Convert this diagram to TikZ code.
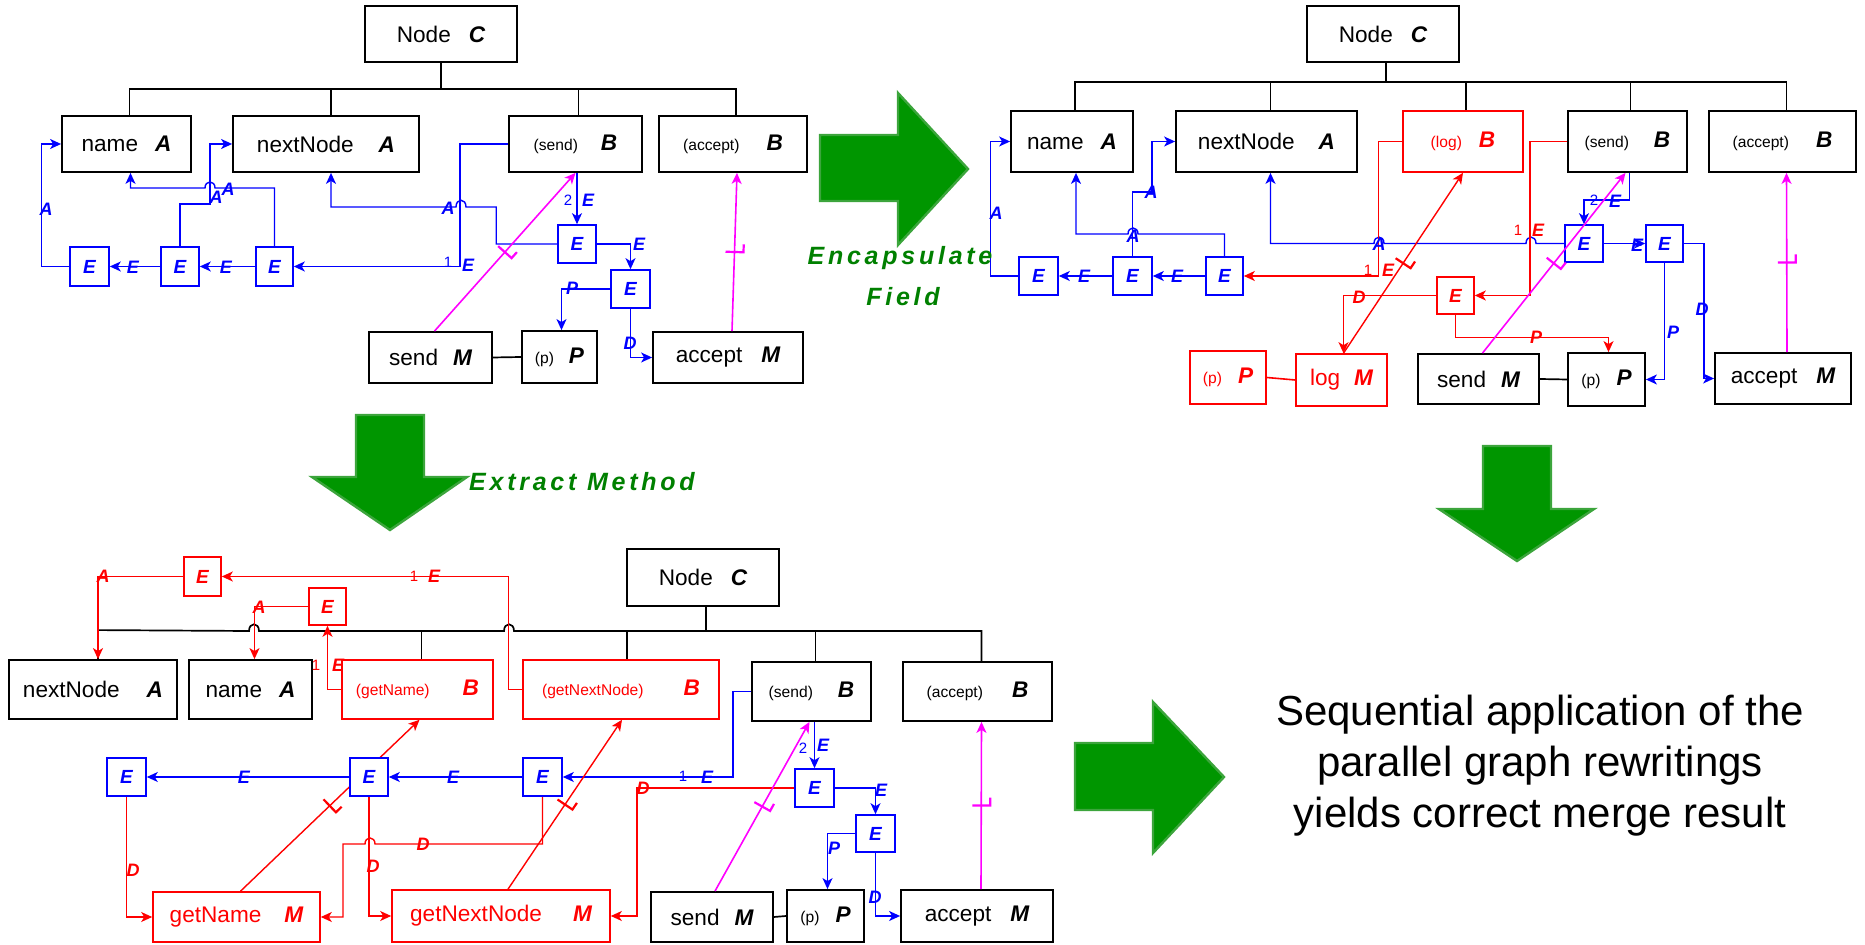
\documentclass[tikz,border=0pt]{standalone}
\usepackage{fontspec}
\setmainfont{Liberation Sans}
\newfontfamily\spacedfam[LetterSpace=15]{Liberation Sans}
\usetikzlibrary{arrows.meta,backgrounds,decorations.markings}
\definecolor{mag}{RGB}{255,0,255}
\definecolor{agreen}{RGB}{0,150,0}
\definecolor{aedge}{RGB}{60,165,60}
\definecolor{tgreen}{RGB}{0,128,0}
\newcommand\fntbig{\fontsize{11.3pt}{13pt}\selectfont}
\newcommand\fntsml{\fontsize{7.8pt}{9pt}\selectfont}
\newcommand\fntE{\fontsize{9.5pt}{11pt}\selectfont\bfseries\itshape}
\newcommand\fntlbl{\fontsize{9pt}{10pt}\selectfont\bfseries\itshape}
\newcommand\fntnum{\fontsize{7.5pt}{9pt}\selectfont}
\newcommand\fntgreen{\spacedfam\fontsize{12.5pt}{14pt}\selectfont\bfseries\itshape}
\newcommand\fntmsg{\fontsize{21pt}{25.5pt}\selectfont}
% word label + type letter, and small bracketed label + type letter
\newcommand\wlab[3][9pt]{{\fntbig #2}\hspace{#1}{\fntbig\bfseries\itshape #3}}
\newcommand\plab[3][12pt]{{\fntsml #2}\hspace{#1}{\fntbig\bfseries\itshape #3}}
% box from its corners: style, name, x1, y1, x2, y2, text
\newcommand\placebox[7]{\node[#1,minimum width={(#5-#3)*0.5pt},minimum height={(#6-#4)*0.5pt}] (#2) at ({(#3+#5)/2},{(#4+#6)/2}) {#7};}
\begin{document}
\begin{tikzpicture}[x=0.5pt,y=-0.5pt,
  box/.style={draw=black,line width=0.9pt,fill=white,inner sep=0pt,text=black},
  rbox/.style={box,draw=red,text=red,line width=0.8pt},
  ebox/.style={draw=blue,line width=0.8pt,fill=white,inner sep=0pt,text=blue,font=\fntE},
  rebox/.style={ebox,draw=red,text=red},
  arr/.style={-{Stealth[length=5.5pt,width=5pt,inset=1.5pt]}},
  be/.style={draw=blue,line width=0.7pt,arr},
  re/.style={draw=red,line width=0.7pt,arr},
  tick/.style={postaction={decorate,decoration={markings,mark=at position 0.5 with {\draw[line width=1.1pt,-] (0,4.5pt) -- (0,-4.5pt) -- (4pt,-4.5pt);}}}},
  me/.style={draw=mag,line width=0.8pt,arr,tick},
  tree/.style={draw=black,line width=0.85pt},
  bl/.style={font=\fntlbl,text=blue,inner sep=0pt},
  rl/.style={font=\fntlbl,text=red,inner sep=0pt},
  bn/.style={font=\fntnum,text=blue,inner sep=0pt},
  rn/.style={font=\fntnum,text=red,inner sep=0pt},
  bigarrow/.style={fill=agreen,draw=aedge,line width=1.2pt,line join=miter},
  gtxt/.style={font=\fntgreen,text=tgreen,inner sep=0pt}]
\useasboundingbox (0,0) rectangle (1865,945);

% ---------------- first graph (top left) ----------------
\placebox{box}{C1}{365}{6}{517}{62}{\wlab{Node}{C}}
\placebox{box}{nA1}{62}{116}{191}{172}{\wlab[8.5pt]{name}{A}}
\placebox{box}{nN1}{233}{116}{419}{172}{\wlab[12.5pt]{nextNode}{A}}
\placebox{box}{sB1}{509}{116}{642}{172}{\plab[11.5pt]{(send)}{B}}
\placebox{box}{aB1}{659}{116}{807}{172}{\plab[13.5pt]{(accept)}{B}}
\placebox{ebox}{e11}{70}{247}{109}{286}{E}
\placebox{ebox}{e12}{161}{247}{199}{286}{E}
\placebox{ebox}{e13}{256}{247}{293}{286}{E}
\placebox{ebox}{e14}{558}{225}{596}{263}{E}
\placebox{ebox}{e15}{611}{270}{650}{308}{E}
\placebox{box}{sM1}{369}{332}{492}{383}{\wlab[7.5pt]{send}{M}}
\placebox{box}{pP1}{522}{331}{597}{383}{\plab[7.5pt]{(p)}{P}}
\placebox{box}{aM1}{653}{332}{803}{383}{\wlab[9.5pt]{accept}{M}}

\begin{scope}[on background layer]
\coordinate (t1) at (441,89);
\draw[tree] (C1.south) -- ++(0,27);
\draw[tree] ([xshift=1.5pt]nA1.north) |- (t1) -| ([xshift=1.5pt]aB1.north);
\draw[tree] ([xshift=2.5pt]nN1.north) -- ++(0,-27);
\draw[tree] ([xshift=1.5pt]sB1.north) -- ++(0,-27);
\draw[be] (e11.west) -- ++(-28,0) |- (nA1.west);
\draw[be] (e12.west) -- (e11.east);
\draw[be] (e13.west) -- (e12.east);
\draw[be] (sB1.west) -- ++(-48,0) |- (e13.east);
\draw[be] (e14.west) -- ++(-61,0) |- (466,207) .. controls (466,198) and (456,198) .. (456,207) -| ([xshift=2.5pt]nN1.south);
\draw[be] (e13.north) |- (215,188) .. controls (215,180) and (205,180) .. (205,188) -| ([xshift=2pt]nA1.south);
\draw[be] (e12.north) |- (210,204) |- (nN1.west);
\draw[be] (e14.north |- sB1.south) -- (e14.north);
\draw[be] (e14.east) -| (e15.north);
\draw[be] (e15.west) -| ([xshift=1pt]pP1.north);
\draw[be] (e15.south) |- (aM1.west);
\draw[tree] (sM1.east) -- (pP1.west);
\end{scope}
\draw[me] ([xshift=2pt]sM1.north) -- (sB1.south);
\draw[me] ([xshift=2pt]aM1.north) -- ([xshift=2pt]aB1.south);

\node[bl] at (46,209) {A};
\node[bl] at (133,267) {E};
\node[bl] at (226,267) {E};
\node[bn] at (448,262) {1};
\node[bl] at (468,265) {E};
\node[bl] at (448,208) {A};
\node[bl] at (228,189) {A};
\node[bl] at (216,197) {A};
\node[bn] at (568,200) {2};
\node[bl] at (588,200) {E};
\node[bl] at (639,244) {E};
\node[bl] at (572,288) {P};
\node[bl] at (630,343) {D};

% ---------------- second graph (top right) ----------------
\placebox{box}{C2}{1307}{6}{1459}{62}{\wlab{Node}{C}}
\placebox{box}{nA2}{1011}{111}{1133}{172}{\wlab[8.5pt]{name}{A}}
\placebox{box}{nN2}{1176}{111}{1357}{172}{\wlab[12pt]{nextNode}{A}}
\placebox{rbox}{lB2}{1403}{111}{1523}{172}{\plab[8.5pt]{(log)}{B}}
\placebox{box}{sB2}{1568}{111}{1687}{172}{\plab[12.5pt]{(send)}{B}}
\placebox{box}{aB2}{1709}{111}{1856}{172}{\plab[13.5pt]{(accept)}{B}}
\placebox{ebox}{e21}{1019}{257}{1058}{295}{E}
\placebox{ebox}{e22}{1113}{257}{1152}{295}{E}
\placebox{ebox}{e23}{1206}{257}{1243}{295}{E}
\placebox{ebox}{e24}{1565}{225}{1603}{262}{E}
\placebox{ebox}{e25}{1646}{225}{1683}{262}{E}
\placebox{rebox}{eR2}{1437}{277}{1474}{314}{E}
\placebox{rbox}{pR2}{1190}{351}{1266}{404}{\plab[8pt]{(p)}{P}}
\placebox{rbox}{lM2}{1296}{354}{1387}{406}{\wlab[7pt]{log}{M}}
\placebox{box}{sM2}{1418}{354}{1539}{404}{\wlab[7.5pt]{send}{M}}
\placebox{box}{pP2}{1568}{353}{1645}{406}{\plab[8pt]{(p)}{P}}
\placebox{box}{aM2}{1715}{353}{1851}{404}{\wlab[9.5pt]{accept}{M}}

\begin{scope}[on background layer]
\coordinate (t2) at (1383,82);
\draw[tree] ([xshift=1.5pt]C2.south) -- ++(0,20);
\draw[tree] ([xshift=1.5pt]nA2.north) |- (t2) -| ([xshift=2pt]aB2.north);
\draw[tree] ([xshift=2pt]nN2.north) -- ++(0,-29);
\draw[tree] ([xshift=1.5pt]lB2.north) -- ++(0,-29);
\draw[tree] ([xshift=1.5pt]sB2.north) -- ++(0,-29);
\draw[be] (e21.west) -- ++(-28,0) |- (nA2.west);
\draw[be] (e22.west) -- (e21.east);
\draw[be] (e23.west) -- (e22.east);
\draw[be] (e23.north) |- (1138,234) .. controls (1138,226) and (1128,226) .. (1128,234) -| ([xshift=2pt]nA2.south);
\draw[be] (e22.north) |- (1152,192) |- (nN2.west);
\draw[be] (e24.west) -- (1536,243.5) .. controls (1536,235) and (1526,235) .. (1526,243.5) -- (1384,243.5) .. controls (1384,235) and (1374,235) .. (1374,243.5) -| ([xshift=2pt]nN2.south);
\draw[be] ([xshift=1pt]sB2.south) -- ++(0,27) -| (e24.north);
\draw[be] (e24.east) -- (e25.west);
\draw[be] (e25.south) |- (pP2.east);
\draw[be] (e25.east) -- ++(20,0) |- (aM2.west);
\draw[re] (lB2.west) -- ++(-24,0) |- (e23.east);
\draw[re] (sB2.west) -- ++(-37,0) |- (eR2.east);
\draw[re] (eR2.west) -| ([xshift=1pt]lM2.north);
\draw[re] (eR2.south) -- ++(0,23) -| ([xshift=1pt]pP2.north);
\draw[re,tick] ([xshift=1pt]lM2.north) -- (lB2.south);
\draw[red,line width=0.8pt] (pR2.east) -- (lM2.west);
\draw[tree] (sM2.east) -- (pP2.west);
\end{scope}
\draw[me] ([xshift=2pt]sM2.north) -- ([xshift=-1pt]sB2.south);
\draw[me] ([xshift=2pt]aM2.north) -- ([xshift=2pt]aB2.south);

\node[bl] at (996,213) {A};
\node[bl] at (1084,276) {E};
\node[bl] at (1177,276) {E};
\node[bl] at (1133,236) {A};
\node[bl] at (1151,192) {A};
\node[bl] at (1379,244) {A};
\node[bn] at (1594,200) {2};
\node[bl] at (1615,201) {E};
\node[bl] at (1637,245) {E};
\node[bl] at (1673,332) {P};
\node[bl] at (1702,309) {D};
\node[rn] at (1368,270) {1};
\node[rl] at (1388,270) {E};
\node[rn] at (1518,230) {1};
\node[rl] at (1538,230) {E};
\node[rl] at (1359,297) {D};
\node[rl] at (1536,337) {P};

% ---------------- third graph (bottom left) ----------------
\placebox{box}{C3}{627}{549}{779}{606}{\wlab{Node}{C}}
\placebox{box}{nN3}{9}{660}{177}{719}{\wlab[13.5pt]{nextNode}{A}}
\placebox{box}{nA3}{189}{660}{312}{719}{\wlab[8.5pt]{name}{A}}
\placebox{rbox}{gB3}{342}{660}{493}{719}{\plab[16.5pt]{(getName)}{B}}
\placebox{rbox}{gnB3}{523}{660}{719}{719}{\plab[20pt]{(getNextNode)}{B}}
\placebox{box}{sB3}{752}{662}{871}{721}{\plab[12.5pt]{(send)}{B}}
\placebox{box}{aB3}{903}{662}{1052}{721}{\plab[14.5pt]{(accept)}{B}}
\placebox{rebox}{et1}{184}{557}{221}{596}{E}
\placebox{rebox}{et2}{309}{588}{346}{625}{E}
\placebox{ebox}{eb1}{107}{758}{146}{796}{E}
\placebox{ebox}{eb2}{350}{758}{388}{796}{E}
\placebox{ebox}{eb3}{523}{758}{562}{796}{E}
\placebox{ebox}{eb4}{795}{769}{834}{807}{E}
\placebox{ebox}{eb5}{856}{815}{895}{852}{E}
\placebox{rbox}{gM3}{153}{892}{320}{942}{\wlab[11.5pt]{getName}{M}}
\placebox{rbox}{gnM3}{392}{890}{610}{942}{\wlab[15.5pt]{getNextNode}{M}}
\placebox{box}{sM3}{651}{892}{773}{942}{\wlab[7.5pt]{send}{M}}
\placebox{box}{pP3}{787}{890}{864}{942}{\plab[8pt]{(p)}{P}}
\placebox{box}{aM3}{901}{890}{1053}{942}{\wlab[9.5pt]{accept}{M}}

\begin{scope}[on background layer]
\draw[tree] ([xshift=1.5pt]C3.south) -- ++(0,25);
\draw[tree] ([xshift=2.5pt]nN3.north) -- ++(0,-29) -- (249,631) .. controls (249,622) and (259,622) .. (259,631) -- (504,631) .. controls (504,622) and (514,622) .. (514,631) -| ([xshift=2pt]aB3.north);
\draw[tree] ([xshift=2pt]gB3.north) -- ++(0,-29);
\draw[tree] ([xshift=3pt]gnB3.north) -- ++(0,-29);
\draw[tree] ([xshift=2pt]sB3.north) -- ++(0,-31);
\draw[be] (eb2.west) -- (eb1.east);
\draw[be] (eb3.west) -- (eb2.east);
\draw[be] (sB3.west) -- ++(-18,0) |- (eb3.east);
\draw[be] (eb4.north |- sB3.south) -- (eb4.north);
\draw[be] (eb4.east) -| (eb5.north);
\draw[be] (eb5.west) -| ([xshift=1pt]pP3.north);
\draw[be] (eb5.south) |- (aM3.west);
\draw[re] (eb1.south) |- (gM3.west);
\draw[re] (eb2.south) |- (gnM3.west);
\draw[re] (eb3.south) |- (375,844) .. controls (375,836) and (365,836) .. (365,844) -- (343,844) |- (gM3.east);
\draw[re] (eb4.west) -- (637,788) |- (gnM3.east);
\draw[re,tick] ([xshift=2pt]gM3.north) -- ([xshift=1pt]gB3.south);
\draw[re,tick] ([xshift=3.5pt]gnM3.north) -- ([xshift=0.5pt]gnB3.south);
\draw[re] (et1.west) -| ([xshift=2.5pt]nN3.north);
\draw[re] (et2.west) -| ([xshift=2pt]nA3.north);
\draw[re] (gB3.west) -| (et2.south);
\draw[re] (gnB3.west) -- ++(-14,0) |- (et1.east);
\draw[tree] (sM3.east) -- (pP3.west);
\end{scope}
\draw[me] ([xshift=1.5pt]sM3.north) -- ([xshift=-1pt]sB3.south);
\draw[me] ([xshift=2pt]aM3.north) -- ([xshift=2pt]aB3.south);

\node[bl] at (244,777) {E};
\node[bl] at (453,777) {E};
\node[bn] at (683,776) {1};
\node[bl] at (707,777) {E};
\node[bn] at (803,748) {2};
\node[bl] at (823,745) {E};
\node[bl] at (881,790) {E};
\node[bl] at (834,848) {P};
\node[bl] at (875,897) {D};
\node[rl] at (133,870) {D};
\node[rl] at (373,866) {D};
\node[rl] at (423,844) {D};
\node[rl] at (643,788) {D};
\node[rl] at (103,576) {A};
\node[rl] at (259,607) {A};
\node[rn] at (316,665) {1};
\node[rl] at (338,665) {E};
\node[rn] at (414,576) {1};
\node[rl] at (434,576) {E};

% ---------------- rewriting arrows and captions ----------------
\draw[bigarrow] (820,135) -- (898,135) -- (898,93) -- (968,169) -- (898,245) -- (898,201) -- (820,201) -- cycle;
\draw[bigarrow] (356,415) -- (424,415) -- (424,477) -- (467,477) -- (390,530) -- (312,477) -- (356,477) -- cycle;
\draw[bigarrow] (1483,446) -- (1551,446) -- (1551,509) -- (1594,509) -- (1517,561) -- (1439,509) -- (1483,509) -- cycle;
\draw[bigarrow] (1075,743) -- (1153,743) -- (1153,702) -- (1224,777) -- (1153,853) -- (1153,810) -- (1075,810) -- cycle;
\node[gtxt] at (900,258) {Encapsulate};
\node[gtxt] at (903,297) {Field};
\node[gtxt] at (582,482) {Extract Method};
\node[font=\fntmsg,align=center,inner sep=0pt] at (1540,766) {Sequential application of the\\parallel graph rewritings\\yields correct merge result};
\end{tikzpicture}
\end{document}
